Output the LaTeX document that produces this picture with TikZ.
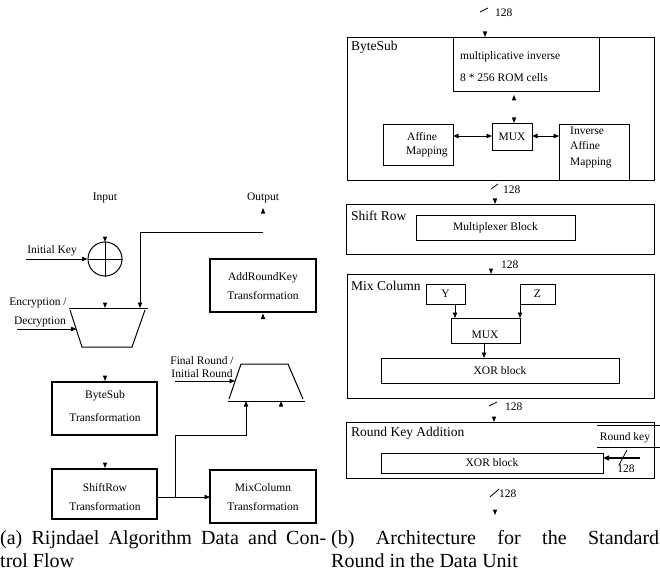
\documentclass[tikz,border=0pt]{standalone}
\usepackage{fontspec}
\setmainfont{Liberation Serif}
\usetikzlibrary{arrows.meta,fit}
\newcommand\ahd[2]{\fill (#1,#2) -- ++(-2.2,-5.5) -- ++(4.4,0) -- cycle;}
\newcommand\ahu[2]{\fill (#1,#2) -- ++(-2.2,5.5) -- ++(4.4,0) -- cycle;}
\begin{document}
\begin{tikzpicture}[x=1pt,y=-1pt,
  boxl/.style={draw, line width=1.1pt, inner sep=0pt, outer sep=0pt},
  boxr/.style={draw, line width=0.8pt, inner sep=0pt, outer sep=0pt},
  txt/.style={inner sep=0pt, font=\fontsize{11.5}{13}\selectfont},
  lab/.style={inner sep=0pt, anchor=west, font=\fontsize{13.5}{15}\selectfont},
  arr/.style={-{Triangle[length=5.5pt,width=4.4pt]}, line width=0.8pt},
  thin/.style={line width=0.8pt}]
\useasboundingbox (0,0) rectangle (660,585);

% ---------------- left panel ----------------
\node[txt] (inp) at (105,198) {Input};
\node[txt] (outp) at (263,198) {Output};
\ahu{263}{208}

\node[draw, circle, minimum size=34pt, inner sep=0pt, line width=1pt] (xr) at (105,259) {};
\draw[thin] (xr.north) -- (xr.south);
\draw[thin] (xr.west) -- (xr.east);
\ahd{105}{242}
\node[txt] (ik) at (52,251) {Initial Key};
\coordinate (ikin) at (26,259);
\draw[arr] (ikin) -- (xr.west);

% output / feedback line
\coordinate (fb0) at (263,232);
\coordinate (fb1) at (140,232);
\coordinate (m1in) at (140,308);
\draw[arr] (fb0) -- (fb1) -- (m1in);

% mux trapezoid 1
\draw[line width=1pt] (69,308) -- (148,308);
\draw[line width=1pt] (70,310) -- (82,347) -- (132,347) -- (145,310);
\ahd{105}{308}
\node[txt] (enc) at (38,303) {Encryption /};
\node[txt] (dec) at (40,322) {Decryption};
\coordinate (encin) at (17,329);
\coordinate (m1l) at (76.5,329);
\draw[arr] (encin) -- (m1l);

% boxes
\node[boxl, fit={(52,382)(157,435)}] (bs) {};
\node[txt] at (105,396) {ByteSub};
\node[txt] at (105,418) {Transformation};
\ahd{105}{381}

\node[boxl, fit={(52,469)(157,519)}] (sr) {};
\node[txt] at (105,488) {ShiftRow};
\node[txt] at (105,507) {Transformation};
\ahd{105}{468}

\node[boxl, fit={(210,470)(316,523)}] (mc) {};
\node[txt] at (263,488) {MixColumn};
\node[txt] at (263,507) {Transformation};

\node[boxl, fit={(210,259)(316,312)}] (ark) {};
\node[txt] at (263,278) {AddRoundKey};
\node[txt] at (263,296) {Transformation};
\ahu{263}{313.5}

% mux trapezoid 2
\draw[line width=1pt] (229,399) -- (241,364) -- (288,364) -- (303,399);
\draw[line width=1pt] (228,401) -- (305,401);
\node[txt] (fr) at (202,361) {Final Round /};
\node[txt] (ir) at (202,374) {Initial Round};
\coordinate (frin) at (175,381);
\coordinate (m2l) at (235,381);
\draw[arr] (frin) -- (m2l);
\ahu{281}{401}

% shiftrow outputs
\coordinate (br) at (175,497);
\draw[arr] (sr.east |- br) -- (mc.west |- br);
\coordinate (b1) at (175,435);
\coordinate (b2) at (246,435);
\coordinate (m2in) at (246,401);
\draw[arr] (br) -- (b1) -- (b2) -- (m2in);

% ---------------- right panel ----------------
% top 128
\draw[thin] (480,12) -- (488,8);
\node[txt, anchor=west] at (495,13) {128};
\ahd{485}{37}

\node[boxr, fit={(347,37)(654,180)}] (bsub) {};
\node[lab] at (351,47) {ByteSub};
\node[boxr, fit={(453,37)(599,91)}] (mi) {};
\node[txt, anchor=west] at (460,57) {multiplicative inverse};
\node[txt, anchor=west] at (460,78) {8 * 256 ROM cells};
\ahu{514}{95}
\ahd{514}{123}
\node[boxr, fit={(492,123)(532,150)}] (mux1) {};
\node[txt] at (mux1.center) {MUX};
\node[boxr, fit={(383,124)(453,165)}] (aff) {};
\node[txt, anchor=west] at (407,137) {Affine};
\node[txt, anchor=west] at (406,152) {Mapping};
\node[boxr, fit={(559,124)(629,180)}] (iaff) {};
\node[txt, anchor=west] at (570,131) {Inverse};
\node[txt, anchor=west] at (570,146) {Affine};
\node[txt, anchor=west] at (570,163) {Mapping};
\coordinate (ay) at (0,136);
\draw[{Triangle[length=5.5pt,width=4.4pt]}-{Triangle[length=5.5pt,width=4.4pt]}, thin] (aff.east |- ay) -- (mux1.west |- ay);
\draw[{Triangle[length=5.5pt,width=4.4pt]}-{Triangle[length=5.5pt,width=4.4pt]}, thin] (mux1.east |- ay) -- (iaff.west |- ay);

% 128 after ByteSub
\draw[thin] (491,189) -- (498,184);
\node[txt, anchor=west] at (503,190) {128};
\ahd{495}{204}

\node[boxr, fit={(346,204)(654,254)}] (shr) {};
\node[lab] at (351,216) {Shift Row};
\node[boxr, fit={(416,215)(575,240)}] (mpx) {};
\node[txt] at (mpx.center) {Multiplexer Block};

\ahd{491}{274}
\node[txt, anchor=west] at (501,265) {128};

\node[boxr, fit={(347,274)(654,398)}] (mcol) {};
\node[lab] at (351,286) {Mix Column};
\node[boxr, fit={(426,284)(465,304)}] (yb) {};
\node[txt] at (yb.center) {Y};
\node[boxr, fit={(520,284)(555,304)}] (zb) {};
\node[txt] at (zb.center) {Z};
\node[boxr, fit={(451,318)(520,343)}] (mux2) {};
\node[txt] at (485,335) {MUX};
\draw[arr] (455,304) -- (455,318);
\draw[arr] (zb.south west) -- (mux2.north east);
\node[boxr, fit={(381,358)(619,383)}] (xor1) {};
\node[txt] at (xor1.center) {XOR block};
\coordinate (mx2o) at (484,343);
\coordinate (x1i) at (484,358);
\draw[arr] (mx2o) -- (x1i);

% 128 after Mix Column
\draw[thin] (489,406) -- (497,402);
\node[txt, anchor=west] at (505,407) {128};
\ahd{494}{422}

\node[boxr, fit={(346,422)(654,478)}] (rka) {};
\node[lab] at (351,433) {Round Key Addition};
\node[boxr, fit={(381,453)(603,473)}] (xor2) {};
\node[txt] at (xor2.center) {XOR block};
\draw[thin] (597,425) -- (660,425);
\draw[thin] (597,447) -- (660,447);
\node[txt] (rk) at (625,438) {Round key};
\coordinate (rkin) at (640,458);
\draw[-{Triangle[length=6pt,width=5pt]}, line width=1.4pt] (rkin) -- (xor2.east |- rkin);
\draw[thin] (619,465) -- (627,450);
\node[txt] at (626,469) {128};

% output 128
\draw[thin] (490,497) -- (499,489);
\node[txt, anchor=west] at (499,494) {128};
\ahd{495}{515}

% ---------------- captions ----------------
\node[anchor=north west, inner sep=0pt, text width=326pt, align=justify,
  font=\fontsize{20}{23}\selectfont] (capa) at (0,530) {(a) Rijndael Algorithm Data and Con-\linebreak trol Flow};
\node[anchor=north west, inner sep=0pt, text width=328pt, align=justify,
  font=\fontsize{20}{23}\selectfont] (capb) at (331,530) {(b) Architecture for the Standard\linebreak Round in the Data Unit};
\end{tikzpicture}
\end{document}
